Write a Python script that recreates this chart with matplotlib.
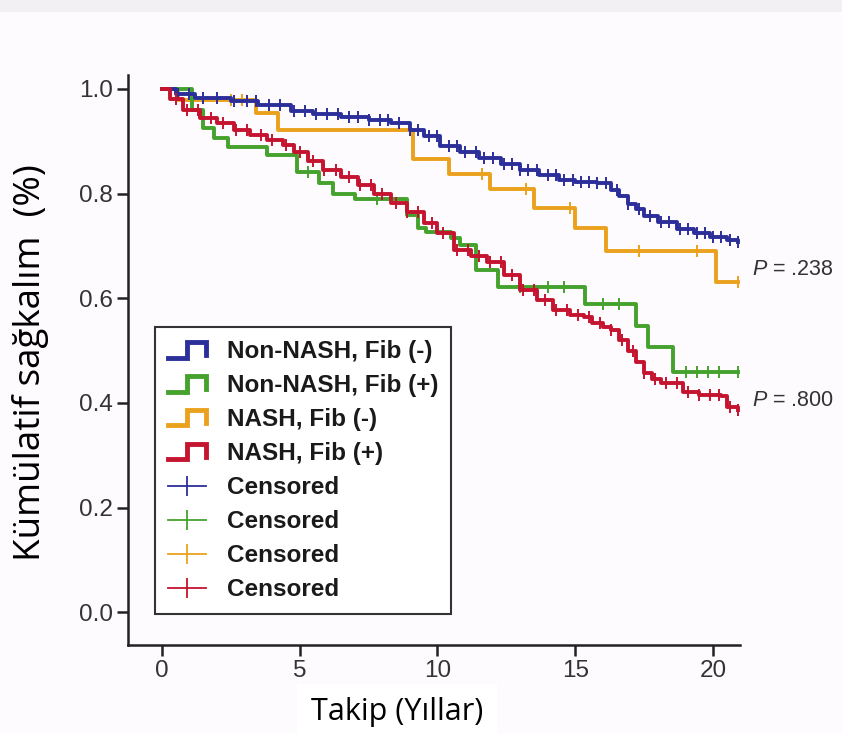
import numpy as np
import matplotlib.pyplot as plt
from matplotlib.lines import Line2D
from matplotlib.patches import Rectangle
from matplotlib.legend_handler import HandlerBase

plt.rcParams['mathtext.fontset'] = 'custom'
plt.rcParams['mathtext.it'] = 'Liberation Sans:italic'
plt.rcParams['mathtext.rm'] = 'Liberation Sans'

# Kaplan-Meier step curves (years, survival)
blue_t = [0, 0.5, 1.2, 2.5, 3.5, 4.7, 5.5, 6.5, 7.5, 8.3, 9.0, 9.5, 10.1, 10.8, 11.5,
          12.3, 13.0, 13.7, 14.4, 15.0, 15.8, 16.3, 16.6, 16.9, 17.2, 17.5, 18.0, 18.7,
          19.3, 19.9, 20.5, 20.9]
blue_v = [1.0, 0.99, 0.982, 0.977, 0.97, 0.957, 0.952, 0.946, 0.94, 0.935, 0.922, 0.91,
          0.892, 0.88, 0.868, 0.857, 0.846, 0.835, 0.826, 0.822, 0.82, 0.807, 0.795, 0.78,
          0.77, 0.757, 0.745, 0.732, 0.725, 0.717, 0.712, 0.708]
blue_cens = [0.6, 1.0, 1.5, 2.0, 2.6, 3.1, 3.4, 3.9, 4.3, 4.8, 5.2, 5.6, 6.0, 6.4, 6.8,
             7.1, 7.5, 7.9, 8.2, 8.6, 9.0, 9.3, 9.7, 10.0, 10.4, 10.7, 11.0, 11.4, 11.7,
             12.0, 12.4, 12.7, 13.0, 13.3, 13.6, 14.0, 14.3, 14.6, 14.9, 15.2, 15.5, 15.8,
             16.1, 16.5, 16.9, 17.3, 17.7, 18.1, 18.4, 18.8, 19.1, 19.4, 19.7, 20.0, 20.3,
             20.6, 20.9]

green_t = [0, 1.1, 1.5, 1.9, 2.4, 3.8, 4.9, 5.7, 6.2, 7.0, 8.9, 9.3, 9.6, 10.5, 10.8,
           11.4, 12.2, 15.35, 17.2, 17.65, 18.55, 20.9]
green_v = [1.0, 0.96, 0.925, 0.907, 0.89, 0.873, 0.841, 0.82, 0.80, 0.79, 0.76, 0.735,
           0.727, 0.715, 0.702, 0.655, 0.622, 0.59, 0.547, 0.507, 0.459, 0.459]
green_cens = [5.3, 7.8, 13.0, 14.0, 14.6, 16.0, 16.6, 19.0, 19.4, 19.8, 20.2, 20.9]

orange_t = [0, 0.6, 3.4, 4.2, 9.1, 10.4, 11.9, 13.5, 15.0, 16.1, 20.1, 20.9]
orange_v = [1.0, 0.979, 0.954, 0.922, 0.867, 0.837, 0.808, 0.772, 0.734, 0.691, 0.631,
            0.631]
orange_cens = [2.5, 2.9, 11.6, 13.2, 14.8, 17.3, 19.4, 20.9]

red_t = [0, 0.3, 0.77, 1.4, 2.0, 2.6, 3.2, 3.8, 4.4, 4.8, 5.3, 5.85, 6.5, 7.1, 7.7, 8.3,
         8.9, 9.5, 10.0, 10.6, 11.2, 11.8, 12.4, 13.0, 13.6, 14.2, 14.8, 15.3, 15.6, 16.0,
         16.3, 16.6, 16.9, 17.2, 17.5, 17.8, 18.1, 18.9, 19.5, 20.3, 20.5, 20.9]
red_v = [1.0, 0.98, 0.96, 0.944, 0.935, 0.922, 0.912, 0.902, 0.893, 0.88, 0.862, 0.845,
         0.832, 0.816, 0.8, 0.782, 0.764, 0.744, 0.725, 0.692, 0.68, 0.669, 0.645, 0.616,
         0.596, 0.577, 0.568, 0.564, 0.552, 0.545, 0.539, 0.52, 0.5, 0.478, 0.457, 0.445,
         0.438, 0.42, 0.416, 0.413, 0.392, 0.386]
red_cens = [0.5, 0.9, 1.3, 1.8, 2.2, 2.7, 3.1, 3.6, 4.0, 4.5, 5.0, 5.5, 5.9, 6.3, 6.8,
            7.2, 7.6, 8.0, 8.5, 8.9, 9.3, 9.8, 10.2, 10.7, 11.1, 11.5, 11.9, 12.3, 12.7,
            13.1, 13.5, 13.9, 14.3, 14.7, 15.1, 15.5, 15.9, 16.3, 16.7, 17.1, 17.5, 17.9,
            18.3, 18.7, 19.1, 19.5, 19.9, 20.2, 20.6, 20.9]

labels = ["Non-NASH, Fib (-)", "Non-NASH, Fib (+)", "NASH, Fib (-)", "NASH, Fib (+)"]
colors = ["#2c2f9a", "#45a22d", "#eaa21e", "#c5142f"]
p_labels = ["$P$ = .238", "$P$ = .800"]
p_y = [0.655, 0.405]


class StepHandler(HandlerBase):
    def create_artists(self, legend, orig_handle, xdescent, ydescent, width, height,
                       fontsize, trans):
        x0, y0 = -xdescent, -ydescent
        xs = [x0, x0 + 0.5 * width, x0 + 0.5 * width, x0 + width, x0 + width]
        ys = [y0 + 0.05 * height, y0 + 0.05 * height, y0 + 0.95 * height,
              y0 + 0.95 * height, y0 + 0.2 * height]
        ln = Line2D(xs, ys, color=orig_handle.get_color(), lw=3.5,
                    solid_joinstyle='miter', transform=trans)
        return [ln]


fig = plt.figure(figsize=(8.42, 7.34), dpi=100, facecolor='#fdfbfd')
fig.patches.append(Rectangle((0, 1 - 12 / 734), 1, 12 / 734, transform=fig.transFigure,
                             facecolor='#f2f0f2', edgecolor='none'))
ax = fig.add_axes([0.152, 0.121, 0.727, 0.777])
ax.set_facecolor('#fdfbfd')

series = [(blue_t, blue_v, blue_cens), (green_t, green_v, green_cens),
          (orange_t, orange_v, orange_cens), (red_t, red_v, red_cens)]
zorders = [3, 2, 1, 4]
for (t, v, cens), c, z in zip(series, colors, zorders):
    t = np.array(t)
    v = np.array(v)
    ax.step(t, v, where='post', color=c, lw=2.8, zorder=z)
    idx = np.searchsorted(t, cens, side='right') - 1
    ax.plot(cens, v[idx], ls='none', marker='|', ms=9, mew=1.4, color=c, zorder=z)

ax.set_xlim(-1.23, 20.98)
ax.set_ylim(-0.063, 1.027)
ax.set_xticks([0, 5, 10, 15, 20])
ax.set_yticks([0.0, 0.2, 0.4, 0.6, 0.8, 1.0])
ax.set_yticklabels(["0.0", "0.2", "0.4", "0.6", "0.8", "1.0"])
for s in ['top', 'right']:
    ax.spines[s].set_visible(False)
for s in ['left', 'bottom']:
    ax.spines[s].set_linewidth(1.8)
    ax.spines[s].set_color('#222222')
ax.tick_params(length=8, width=1.8, color='#222222', labelsize=17.5,
               labelcolor='#333333', pad=3)
for lab in ax.get_xticklabels() + ax.get_yticklabels():
    lab.set_fontfamily('Liberation Sans')

ax.set_ylabel("Kümülatif sağkalım  (%)", fontsize=26.5, family='Open Sans', va='center')
ax.yaxis.set_label_coords(-0.16, 0.496)
ax.set_xlabel("Takip (Yıllar)", fontsize=22, family='Open Sans', va='center',
              bbox=dict(facecolor='white', edgecolor='none', pad=10))
ax.xaxis.set_label_coords(0.44, -0.118)

for txt, y in zip(p_labels, p_y):
    ax.text(21.4, y, txt, fontsize=15.5, color='#333333', va='center', ha='left',
            family='Liberation Sans', clip_on=False)

step_handles = [Line2D([], [], color=c) for c in colors]
cens_handles = [Line2D([], [], color=c, lw=1.3, marker='|', ms=15, mew=1.3)
                for c in colors]
handler_map = {h: StepHandler() for h in step_handles}
leg = ax.legend(step_handles + cens_handles, labels + ["Censored"] * 4,
                loc='lower left', bbox_to_anchor=(0.044, 0.054), borderaxespad=0,
                handler_map=handler_map, fancybox=False, framealpha=1,
                edgecolor='#333333', handlelength=1.55, handletextpad=0.85,
                labelspacing=0.45, borderpad=0.55,
                prop={'family': 'Liberation Sans', 'weight': 'bold', 'size': 17.5})
leg.get_frame().set_linewidth(1.5)
for text in leg.get_texts():
    text.set_color('#1a1a1a')

fig.savefig("out.png", dpi=100, facecolor=fig.get_facecolor())
